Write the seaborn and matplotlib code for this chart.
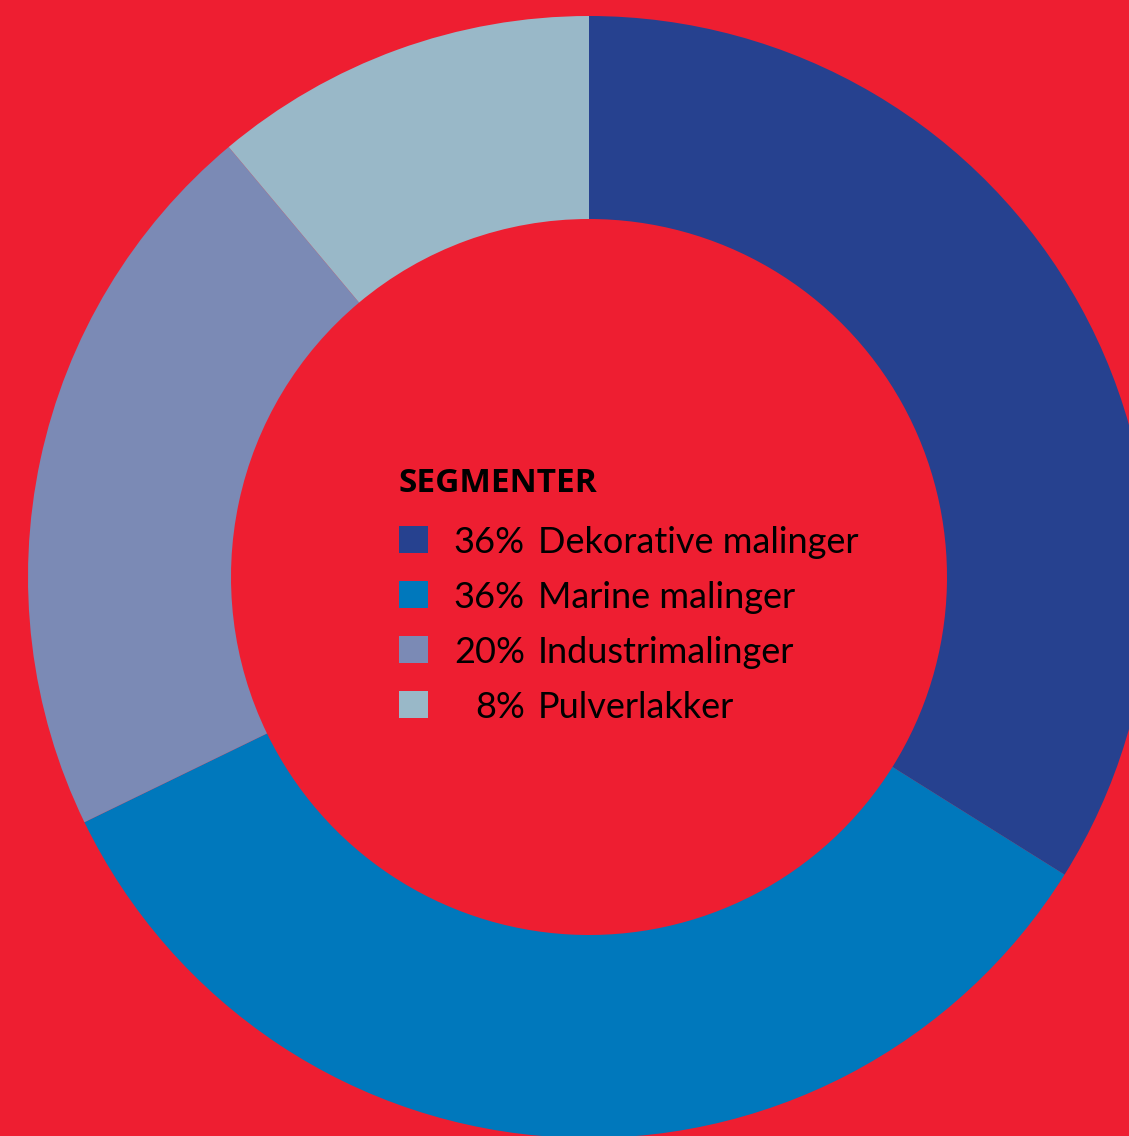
import matplotlib
matplotlib.use("Agg")
import matplotlib.pyplot as plt
from matplotlib.patches import Rectangle
import seaborn as sns

# Data
segments = ["Dekorative malinger", "Marine malinger", "Industrimalinger", "Pulverlakker"]
label_pct = ["36%", "36%", "20%", "8%"]
drawn_share = [33.9, 33.9, 21.1, 11.1]
colors = ["#26418F", "#0078BC", "#7B8AB5", "#99B8C8"]
title = "SEGMENTER"

BG = "#EE1E31"

sns.set_style("white")
plt.rcParams["font.family"] = ["Open Sans", "DejaVu Sans"]

W, H = 1129, 1136
fig = plt.figure(figsize=(W / 100, H / 100), dpi=100, facecolor=BG)
ax = fig.add_axes([0, 0, 1, 1])
ax.set_facecolor(BG)

cx, cy = 589, H - 577
R_out, R_in = 561, 358
ax.pie(drawn_share, colors=colors, startangle=90, counterclock=False,
       radius=R_out, center=(cx, cy),
       wedgeprops=dict(width=R_out - R_in, linewidth=0, antialiased=True))

ax.set_aspect("auto")
ax.set_xlim(0, W)
ax.set_ylim(0, H)
ax.axis("off")

# Title
ax.text(399, H - 492, title, fontsize=24, fontweight="bold", color="black",
        ha="left", va="baseline")

# Legend rows
base0 = 553
step = 55
lfont = ["Lato", "Open Sans", "DejaVu Sans"]
for i, (seg, pct, col) in enumerate(zip(segments, label_pct, colors)):
    b = base0 + i * step
    ax.add_patch(Rectangle((399, H - b), 29, 27, facecolor=col, edgecolor="none"))
    ax.text(525, H - b, pct, fontsize=26, family=lfont, color="black",
            ha="right", va="baseline")
    ax.text(538, H - b, seg, fontsize=26, family=lfont, color="black",
            ha="left", va="baseline")

fig.savefig("out.png", dpi=100, facecolor=BG)
